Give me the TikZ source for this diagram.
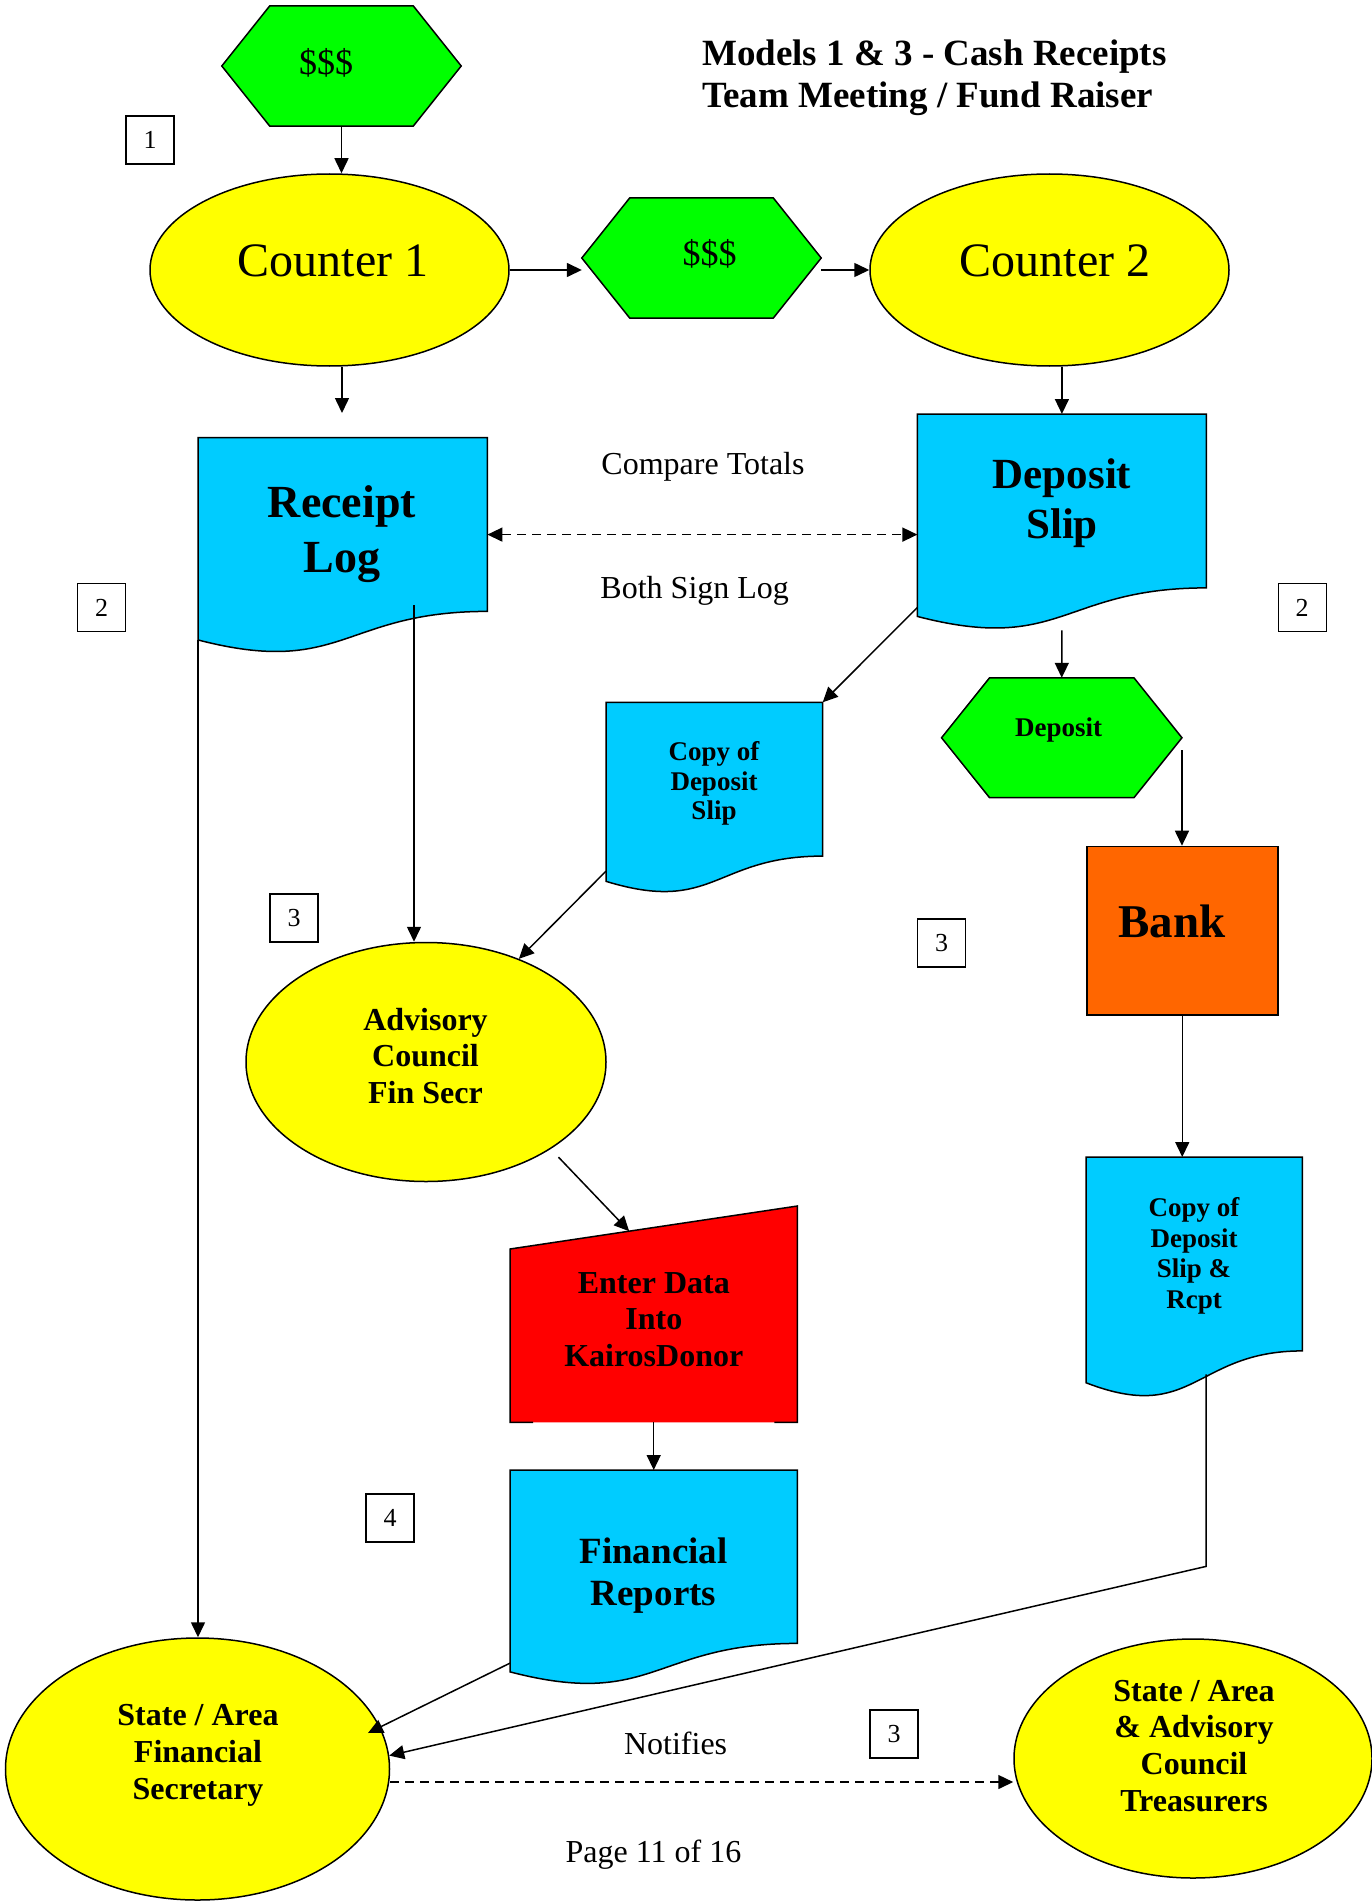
\documentclass[tikz,border=0pt]{standalone}
\usepackage{fontspec}
\setmainfont{Liberation Serif}
\usetikzlibrary{arrows.meta,calc,shapes.geometric}
\definecolor{docblue}{HTML}{00CCFF}
\definecolor{hexgreen}{HTML}{00FF00}
\definecolor{ellyellow}{HTML}{FFFF00}
\definecolor{bankorange}{HTML}{FF6600}
\definecolor{enterred}{HTML}{FF0000}
\newcommand\docpath[2]{\filldraw[docshape] (#1.north west) -- (#1.north east) -- (#1.south east) .. controls (#1.south) and ($(#1.south)+(0,{#2*0.381})$) .. ($(#1.south west)+(0,{#2*0.1645})$) -- cycle;}
\newcommand\hexpath[1]{\filldraw[hexshape] (#1.west) -- ($(#1.north west)+(48,0)$) -- ($(#1.north east)+(-48,0)$) -- (#1.east) -- ($(#1.south east)+(-48,0)$) -- ($(#1.south west)+(48,0)$) -- cycle;}
\tikzset{
  frame/.style={draw=none, inner sep=0pt, rectangle},
  docshape/.style={fill=docblue, draw=black, line width=1.5pt},
  hexshape/.style={fill=hexgreen, draw=black, line width=1.5pt},
  ell/.style={ellipse, draw=black, fill=ellyellow, line width=1.5pt, inner sep=0pt},
  numbox/.style={draw, line width=1.3pt, minimum size=48pt, inner sep=0pt, font=\fontsize{26}{30}\selectfont},
  arr/.style={line width=1.5pt, -{Triangle[length=15pt,width=14pt]}},
  dasharr/.style={arr, dash pattern=on 9pt off 6pt},
  dblarr/.style={line width=1.5pt, dash pattern=on 9pt off 6pt, {Triangle[length=15pt,width=14pt]}-{Triangle[length=15pt,width=14pt]}},
  txt/.style={inner sep=0pt, align=center},
  bt/.style={txt, font=\bfseries\fontsize{#1}{#1}\selectfont},
}
\begin{document}
\begin{tikzpicture}[x=1pt,y=-1pt]
\useasboundingbox (0,0) rectangle (1372,1902);
\fill[white] (0,0) rectangle (1372,1902);

% title
\node[txt, align=left, anchor=west, font=\bfseries\fontsize{37}{42}\selectfont] (title) at (702,77.3) {Models 1 \& 3 - Cash Receipts\\Team Meeting / Fund Raiser};

% hexagons
\node[frame, minimum width=239pt, minimum height=120pt] (hex1) at (341.5,66) {};
\hexpath{hex1}
\node[txt, font=\fontsize{36}{40}\selectfont] (hex1t) at (326,63.3) {\$\$\$};
\node[frame, minimum width=239pt, minimum height=120pt] (hex2) at (701.5,258) {};
\hexpath{hex2}
\node[txt, font=\fontsize{36}{40}\selectfont] (hex2t) at (709.5,254) {\$\$\$};
\node[frame, minimum width=240pt, minimum height=119.5pt] (dephex) at (1061.75,737.75) {};
\hexpath{dephex}
\node[bt=27] (dephext) at (1058.6,729.5) {Deposit};

% ellipses
\node[ell, minimum width=359pt, minimum height=192pt] (c1) at (329.5,270) {};
\node[txt, font=\fontsize{48}{52}\selectfont] (c1t) at (333,261) {Counter 1};
\node[ell, minimum width=359pt, minimum height=192pt] (c2) at (1049.5,270) {};
\node[txt, font=\fontsize{48}{52}\selectfont] (c2t) at (1055,261) {Counter 2};
\node[ell, minimum width=360pt, minimum height=239pt] (adv) at (426,1062) {};
\node[txt, font=\bfseries\fontsize{32}{36.7}\selectfont] (advt) at (425.5,1056) {Advisory\\Council\\Fin Secr};
\node[ell, minimum width=384pt, minimum height=262pt] (fs) at (197.5,1769) {};
\node[txt, font=\bfseries\fontsize{32}{37}\selectfont] (fst) at (198,1755) {State / Area\\Financial\\Secretary};
\node[ell, minimum width=358pt, minimum height=239pt] (tr) at (1193,1758.5) {};
\node[txt, font=\bfseries\fontsize{32}{36.8}\selectfont] (trt) at (1194,1745.8) {State / Area\\\& Advisory\\Council\\Treasurers};

% documents
\node[frame, minimum width=289pt, minimum height=173.5pt, anchor=north west] (rlog) at (198,437.5) {};
\docpath{rlog}{173.5}
\node[txt, font=\bfseries\fontsize{46}{55}\selectfont] (rlogt) at (342,534) {Receipt\\Log};
\node[frame, minimum width=288.6pt, minimum height=173.5pt, anchor=north west] (dslip) at (917.4,414) {};
\docpath{dslip}{173.5}
\node[txt, font=\bfseries\fontsize{43}{50}\selectfont] (dslipt) at (1062,502.7) {Deposit\\Slip};
\node[frame, minimum width=216.3pt, minimum height=153.4pt, anchor=north west] (copy1) at (606,702.3) {};
\docpath{copy1}{153.4}
\node[txt, font=\bfseries\fontsize{27}{29.5}\selectfont] (copy1t) at (714,783.5) {Copy of\\Deposit\\Slip};
\node[frame, minimum width=287pt, minimum height=173pt, anchor=north west] (finrep) at (510,1470) {};
\docpath{finrep}{173}
\node[txt, font=\bfseries\fontsize{37}{42.5}\selectfont] (finrept) at (653.5,1575.4) {Financial\\Reports};
\node[frame, minimum width=216pt, minimum height=193.5pt, anchor=north west] (copy2) at (1086,1157) {};
\docpath{copy2}{193.5}
\node[txt, font=\bfseries\fontsize{27}{30.5}\selectfont] (copy2t) at (1194,1256) {Copy of\\Deposit\\Slip \&\\Rcpt};

% bank
\node[draw, fill=bankorange, line width=1.5pt, minimum width=191pt, minimum height=168.3pt, anchor=north west, inner sep=0pt] (bank) at (1086,845.7) {};
\node[bt=47] (bankt) at (1172,921.5) {Bank};

% manual input
\node[frame, minimum width=287pt, minimum height=216pt, anchor=north west] (enter) at (510,1206) {};
\coordinate (entTL) at ($(enter.north west)+(0,43)$);
\fill[enterred] (entTL) -- (enter.north east) -- (enter.south east) -- (enter.south west) -- cycle;
\draw[line width=1.5pt] ($(enter.south west)+(23,0)$) -- (enter.south west) -- (entTL) -- (enter.north east) -- (enter.south east) -- ($(enter.south east)+(-23,0)$);
\node[txt, font=\bfseries\fontsize{32}{36.5}\selectfont] (entert) at (653.8,1319.3) {Enter Data\\Into\\KairosDonor};

% free texts
\node[txt, font=\fontsize{32}{36}\selectfont] (cmp) at (703,467.3) {Compare Totals};
\node[txt, font=\fontsize{32}{36}\selectfont] (both) at (694.7,591) {Both Sign Log};
\node[txt, font=\fontsize{32}{36}\selectfont] (notif) at (675.6,1743.5) {Notifies};
\node[txt, font=\fontsize{32}{36}\selectfont] (page) at (653.5,1855) {Page 11 of 16};

% number boxes
\node[numbox] (n1) at (150,140) {1};
\node[numbox] (n2a) at (101.5,607.8) {2};
\node[numbox] (n2b) at (1302.2,607.8) {2};
\node[numbox] (n3a) at (294,918) {3};
\node[numbox] (n3b) at (941.7,943) {3};
\node[numbox] (n4) at (390,1518) {4};
\node[numbox] (n3c) at (894,1734) {3};

% connectors
\coordinate (a4end) at (342,413);
\coordinate (dashy) at (700,534.6);
\coordinate (ny) at (700,1782);
\coordinate (rl1) at ($(rlog.north west)+(216,167.5)$);
\coordinate (rl2) at ($(rlog.south west)+(0,28.5)$);
\coordinate (cp1) at ($(copy1.south west)+(0,15)$);
\coordinate (ds1) at ($(dslip.south west)+(0,19.5)$);
\coordinate (fr1) at ($(finrep.south west)+(0,19.7)$);
\coordinate (cp2) at ($(copy2.south west)+(120,23.5)$);
\coordinate (cp2b) at ($(cp2)+(0,192)$);

\draw[arr] (hex1.south) -- (hex1.south |- c1.north);
\draw[arr] (c1.east) -- (c1.east -| hex2.west);
\draw[arr] (hex2.east |- c2.west) -- (c2.west);
\draw[arr] (c1.south -| a4end) -- (a4end);
\draw[arr] (dslip.north |- c2.south) -- (dslip.north);
\draw[dblarr] (rlog.east |- dashy) -- (dslip.west |- dashy);
\draw[arr] (ds1) -- (copy1.north east);
\draw[arr] ($(dslip.south)+(0,42.5)$) -- (dephex.north);
\draw[arr] ($(dephex.east)+(0,12.5)$) -- (dephex.east |- bank.north);
\draw[arr] (bank.south) -- (bank.south |- copy2.north);
\draw[arr] (rl1) -- (rl1 |- adv.north);
\draw[arr] (rl2) -- (rl2 |- fs.north);
\draw[arr] (cp1) -- (adv.48);
\draw[arr] ($(adv.-35)+(8,8)$) -- ($(entTL)!0.4146!(enter.north east)$);
\draw[arr] (enter.south) -- (finrep.north);
\draw[arr] (fr1) -- ($(fs.center)+(170.5,-36)$);
\draw[arr] (cp2) -- (cp2b) -- (fs.4);
\draw[dasharr] (fs.east |- ny) -- (tr.west |- ny);
\end{tikzpicture}
\end{document}
